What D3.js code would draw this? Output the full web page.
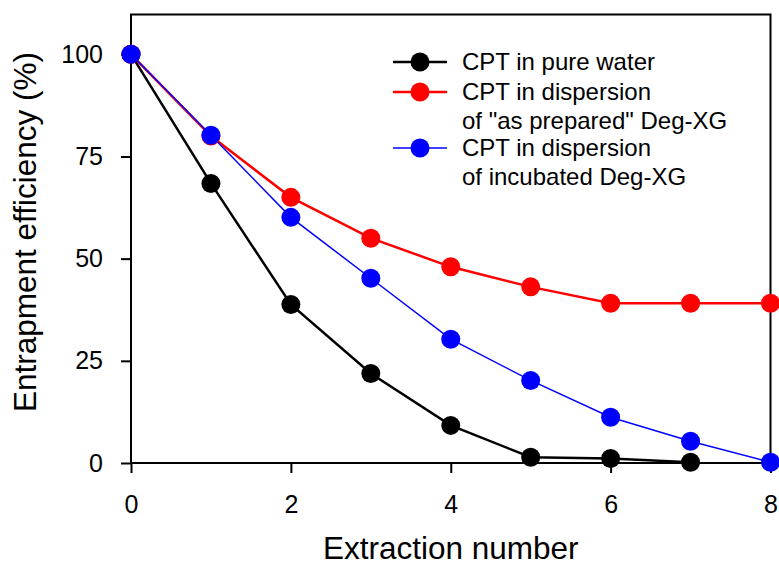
<!DOCTYPE html>
<html>
<head>
<meta charset="utf-8">
<script src="https://cdn.jsdelivr.net/npm/d3@7"></script>
<style>
	body { margin: 0; background: #fff; }
	text { font-family: Arial, "Liberation Sans", sans-serif; fill: #000; }
</style>
</head>
<body>
<script>
var extraction = [0, 1, 2, 3, 4, 5, 6, 7, 8];
var pureWater = [100, 68.4, 38.8, 21.9, 9.2, 1.4, 1.1, 0.2];
var asPrepared = [100, 80.0, 65.0, 55.0, 48.0, 43.1, 39.1, 39.1, 39.1];
var incubated = [100, 80.2, 60.1, 45.2, 30.3, 20.2, 11.2, 5.3, 0.2];
var xTicks = [0, 2, 4, 6, 8];
var yTicks = [0, 25, 50, 75, 100];

var series = [
	{ name: ["CPT in pure water"], values: pureWater, color: "#000", width: 2.5 },
	{ name: ["CPT in dispersion", "of \"as prepared\" Deg-XG"], values: asPrepared, color: "#ff0000", width: 2.5 },
	{ name: ["CPT in dispersion", "of incubated Deg-XG"], values: incubated, color: "#0000ff", width: 1.5 },
];

var width = 779;
var height = 567;
var marginLeft = 131;
var marginTop = 14.5;
var plotRight = 770.5;
var plotBottom = 463;

var svg = d3
	.select("body")
	.append("svg")
	.attr("width", width)
	.attr("height", height);

var x = d3.scaleLinear().domain([0, 8]).range([marginLeft, plotRight]);
var y = d3.scaleLinear().domain([0, 110]).range([plotBottom, plotBottom - 110 * 4.087]);

// frame
svg
	.append("rect")
	.attr("x", marginLeft)
	.attr("y", marginTop)
	.attr("width", plotRight - marginLeft)
	.attr("height", plotBottom - marginTop)
	.style("fill", "none")
	.style("stroke", "#000")
	.style("stroke-width", 2);

var xAxis = svg
	.append("g")
	.attr("transform", "translate(0," + plotBottom + ")")
	.call(d3.axisBottom(x).tickValues(xTicks).tickSize(10).tickPadding(22).tickFormat(d3.format("d")));
xAxis.select(".domain").remove();

var yAxis = svg
	.append("g")
	.attr("transform", "translate(" + marginLeft + ",0)")
	.call(d3.axisLeft(y).tickValues(yTicks).tickSize(10).tickPadding(18).tickFormat(d3.format("d")));
yAxis.select(".domain").remove();

svg.selectAll(".tick line").style("stroke", "#000").style("stroke-width", 2);
svg
	.selectAll(".tick text")
	.style("font-size", "25px")
	.style("font-family", "Arial, 'Liberation Sans', sans-serif");

svg
	.append("text")
	.attr("x", (marginLeft + plotRight) / 2)
	.attr("y", 559)
	.attr("text-anchor", "middle")
	.style("font-size", "31.5px")
	.text("Extraction number");

svg
	.append("text")
	.attr("transform", "translate(36," + 232 + ") rotate(-90)")
	.attr("text-anchor", "middle")
	.style("font-size", "31.5px")
	.text("Entrapment efficiency (%)");

var line = d3
	.line()
	.x((d, i) => x(extraction[i]))
	.y((d) => y(d));

series.forEach((s) => {
	svg
		.append("path")
		.attr("d", line(s.values))
		.style("fill", "none")
		.style("stroke", s.color)
		.style("stroke-width", s.width);
});

series.forEach((s) => {
	svg
		.selectAll(null)
		.data(s.values)
		.join("circle")
		.attr("cx", (d, i) => x(extraction[i]))
		.attr("cy", (d) => y(d))
		.attr("r", 9.5)
		.style("fill", s.color);
});

// legend
var legendRows = [62, 92, 148];
var legend = svg
	.selectAll(".legend")
	.data(series)
	.join("g")
	.attr("class", "legend")
	.attr("transform", (d, i) => "translate(0," + legendRows[i] + ")");

legend
	.append("line")
	.attr("x1", 393)
	.attr("x2", 447)
	.style("stroke", (d) => d.color)
	.style("stroke-width", (d) => d.width);

legend
	.append("circle")
	.attr("cx", 420)
	.attr("r", 9.5)
	.style("fill", (d) => d.color);

legend
	.append("text")
	.attr("x", 462)
	.attr("y", 8)
	.style("font-size", "24px")
	.selectAll("tspan")
	.data((d) => d.name)
	.join("tspan")
	.attr("x", 462)
	.attr("dy", (d, i) => (i === 0 ? 0 : 28.5))
	.text((d) => d);
</script>
</body>
</html>
